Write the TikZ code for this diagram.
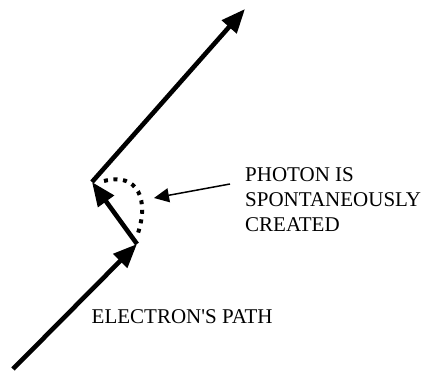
\documentclass[tikz,border=0pt]{standalone}
\usepackage{fontspec}
\setmainfont{Liberation Serif}
\usetikzlibrary{arrows.meta}
\begin{document}
\begin{tikzpicture}[x=1pt,y=-1pt,
  path/.style={line width=4.6pt, -{Triangle[length=24pt,width=19pt]}},
  photon/.style={line width=4pt, dash pattern=on 4pt off 5.6pt},
  pointer/.style={line width=1.5pt, -{Triangle[length=15pt,width=14pt]}},
  lbl/.style={inner sep=0pt, font=\fontsize{21}{24.3}\selectfont}]
\useasboundingbox (0,0) rectangle (431,377);
\coordinate (S) at (13,369);
\coordinate (A) at (137,244);
\coordinate (B) at (92,182);
\coordinate (T) at (245,9);
\coordinate (P0) at (104,181);
\coordinate (P1) at (137,236);
\coordinate (Q) at (230,184);
\coordinate (Qt) at (154,198);
\draw[path] (S) -- (A);
\draw[path] (A) -- (B);
\draw[path] (B) -- (T);
\draw[photon] (P0) .. controls (138,172) and (150,200) .. (P1);
\draw[pointer] (Q) -- (Qt);
\node[lbl, anchor=base west] (l1) at (245,181.7) {PHOTON IS};
\node[lbl, anchor=base west] (l2) at (245,206.3) {SPONTANEOUSLY};
\node[lbl, anchor=base west] (l3) at (245,231) {CREATED};
\node[lbl, anchor=base west] (el) at (91.5,323) {ELECTRON\textquotesingle S PATH};
\end{tikzpicture}
\end{document}
